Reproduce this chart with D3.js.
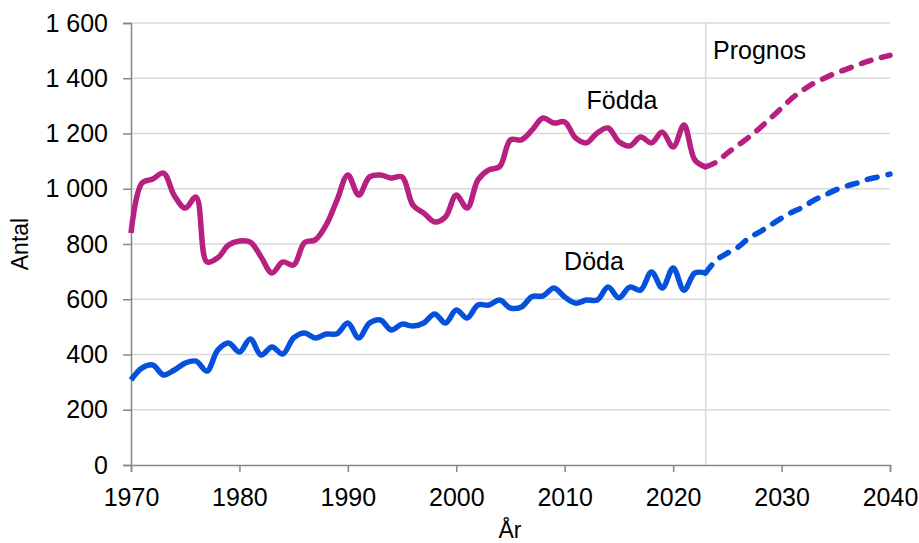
<html lang="sv">
  <head>
    <meta charset="utf-8">
    <title>Födda och döda</title>
    <script src="https://d3js.org/d3.v7.min.js"></script>
    <style>
      body { margin: 0; background: #fff; }
      text { font-family: "Liberation Sans", Arial, sans-serif; fill: #000; }
    </style>
  </head>
  <body>
    <div id="viz"></div>
    <script type="text/javascript">
    // years for the historic series and for the forecast
    var years = d3.range(1970, 2024);
    var prognosYears = d3.range(2023, 2041);

    // births (Födda) 1970-2023
    var fodda = [840, 1020, 1035, 1057, 975, 930, 970, 735, 750, 796,
                 811, 807, 753, 695, 735, 724, 805, 815, 869, 959,
                 1050, 977, 1043, 1050, 1039, 1043, 941, 912, 880, 898,
                 977, 930, 1032, 1068, 1080, 1177, 1177, 1213, 1256, 1238,
                 1242, 1184, 1166, 1202, 1220, 1170, 1155, 1187, 1166, 1205,
                 1151, 1231, 1104, 1079];
    // deaths (Döda) 1970-2023
    var doda = [308, 351, 362, 326, 344, 369, 376, 340, 416, 442,
                409, 456, 398, 427, 402, 460, 478, 460, 474, 475,
                514, 460, 514, 525, 489, 510, 503, 514, 547, 514,
                561, 532, 579, 579, 597, 568, 572, 610, 612, 641,
                608, 586, 597, 597, 644, 605, 644, 633, 699, 641,
                713, 633, 695, 695];
    // forecast 2023-2040
    var foddaPrognos = [1079, 1097, 1129, 1158, 1187, 1220, 1256, 1292, 1329, 1358,
                        1383, 1401, 1419, 1433, 1448, 1462, 1473, 1483];
    var dodaPrognos = [695, 742, 767, 789, 822, 844, 869, 894, 916, 934,
                       959, 977, 996, 1010, 1021, 1035, 1043, 1053];

    var yTicks = [0, 200, 400, 600, 800, 1000, 1200, 1400, 1600];
    var xTicks = [1970, 1980, 1990, 2000, 2010, 2020, 2030, 2040];

    var w = 919, h = 543;
    var x0 = 131, x1 = 890, yTop = 23, yBot = 465;

    var svg = d3.select("#viz").append("svg")
        .attr("width", w)
        .attr("height", h);

    var x = d3.scaleLinear().domain([1970, 2040]).range([x0, x1]);
    var y = d3.scaleLinear().domain([0, 1600]).range([yBot, yTop]);

    // gridlines
    svg.append("g").selectAll("line")
        .data(yTicks.slice(1))
        .enter().append("line")
        .attr("x1", x0).attr("x2", x1)
        .attr("y1", function(d) { return y(d); })
        .attr("y2", function(d) { return y(d); })
        .attr("stroke", "#d9d9d9")
        .attr("stroke-width", 1.5);

    // forecast start line
    svg.append("line")
        .attr("x1", x(2023)).attr("x2", x(2023))
        .attr("y1", yTop).attr("y2", yBot)
        .attr("stroke", "#d9d9d9")
        .attr("stroke-width", 1.5);

    // axes
    var fmt = function(d) { return d3.format(",")(d).replace(",", " "); };

    var yAxis = svg.append("g")
        .attr("transform", "translate(" + x0 + ",0)")
        .call(d3.axisLeft(y).tickValues(yTicks).tickSize(8).tickPadding(15).tickFormat(fmt));

    var xAxis = svg.append("g")
        .attr("transform", "translate(0," + yBot + ")")
        .call(d3.axisBottom(x).tickValues(xTicks).tickSize(7).tickPadding(16).tickFormat(d3.format("d")));

    [yAxis, xAxis].forEach(function(a) {
      a.select(".domain").attr("stroke", "#868686").attr("stroke-width", 1.5);
      a.selectAll(".tick line").attr("stroke", "#868686").attr("stroke-width", 1.5);
      a.selectAll("text")
        .style("font-family", "Liberation Sans, Arial, sans-serif")
        .style("font-size", "25px")
        .attr("fill", "#000");
    });

    // axis titles
    svg.append("text")
        .attr("transform", "translate(28,244) rotate(-90)")
        .attr("text-anchor", "middle")
        .style("font-size", "23px")
        .text("Antal");

    svg.append("text")
        .attr("x", 510).attr("y", 538)
        .attr("text-anchor", "middle")
        .style("font-size", "23px")
        .text("År");

    // lines
    var line = d3.line()
        .x(function(d) { return x(d[0]); })
        .y(function(d) { return y(d[1]); })
        .curve(d3.curveCatmullRom.alpha(0.5));

    var series = [
      { yrs: years, vals: fodda, color: "#b71f80", dash: null },
      { yrs: years, vals: doda, color: "#0651dc", dash: null },
      { yrs: prognosYears, vals: foddaPrognos, color: "#b71f80", dash: "10,11" },
      { yrs: prognosYears, vals: dodaPrognos, color: "#0651dc", dash: "10,11" }
    ];

    series.forEach(function(s) {
      svg.append("path")
          .datum(s.yrs.map(function(yr, i) { return [yr, s.vals[i]]; }))
          .attr("d", line)
          .attr("fill", "none")
          .attr("stroke", s.color)
          .attr("stroke-width", 5.5)
          .attr("stroke-linecap", s.dash ? "round" : "butt")
          .attr("stroke-linejoin", "round")
          .attr("stroke-dasharray", s.dash);
    });

    // labels
    svg.append("text").attr("x", 622).attr("y", 109)
        .attr("text-anchor", "middle").style("font-size", "25px").text("Födda");
    svg.append("text").attr("x", 594).attr("y", 270)
        .attr("text-anchor", "middle").style("font-size", "25px").text("Döda");
    svg.append("text").attr("x", 713).attr("y", 59)
        .style("font-size", "25px").text("Prognos");
    </script>
  </body>
</html>
